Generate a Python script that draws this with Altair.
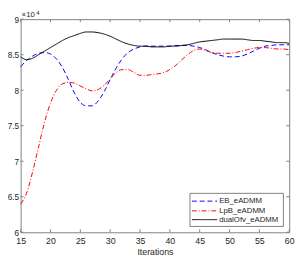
import altair as alt
import pandas as pd

iterations = list(range(15, 61))

eb_eadmm = [8.33, 8.42, 8.48, 8.52, 8.53, 8.51, 8.44, 8.32, 8.15, 7.96,
            7.83, 7.78, 7.78, 7.85, 7.98, 8.15, 8.31, 8.44, 8.53, 8.58,
            8.61, 8.62, 8.62, 8.62, 8.62, 8.62, 8.63, 8.63, 8.63, 8.62,
            8.60, 8.57, 8.53, 8.50, 8.48, 8.47, 8.47, 8.48, 8.51, 8.55,
            8.59, 8.62, 8.63, 8.64, 8.64, 8.64]

lpb_eadmm = [6.40, 6.55, 6.85, 7.20, 7.55, 7.82, 8.00, 8.09, 8.11, 8.10,
             8.06, 8.02, 7.99, 8.01, 8.07, 8.16, 8.25, 8.29, 8.29, 8.25,
             8.21, 8.21, 8.22, 8.23, 8.25, 8.29, 8.35, 8.43, 8.50, 8.56,
             8.58, 8.56, 8.53, 8.52, 8.52, 8.52, 8.53, 8.55, 8.57, 8.59,
             8.60, 8.60, 8.59, 8.58, 8.58, 8.57]

dualofv_eadmm = [8.47, 8.43, 8.45, 8.50, 8.55, 8.60, 8.65, 8.70, 8.74, 8.77,
                 8.80, 8.82, 8.82, 8.81, 8.79, 8.76, 8.72, 8.68, 8.65, 8.63,
                 8.62, 8.62, 8.61, 8.61, 8.61, 8.62, 8.62, 8.63, 8.64, 8.66,
                 8.68, 8.69, 8.70, 8.71, 8.72, 8.72, 8.72, 8.72, 8.71, 8.70,
                 8.70, 8.69, 8.68, 8.67, 8.67, 8.66]

series_names = ["EB_eADMM", "LpB_eADMM", "dualOfv_eADMM"]
series_colors = ["#0000ff", "#ff0000", "#000000"]
series_dashes = [[5, 3], [5, 2, 1, 2], [1, 0]]

x_ticks = [15, 20, 25, 30, 35, 40, 45, 50, 55, 60]
y_ticks = [60000, 65000, 70000, 75000, 80000, 85000, 90000]

W, H = 276, 219
FONT = "Liberation Sans"
TXT = "#262626"
AX = "#808080"

rows = []
for name, vals in zip(series_names, [eb_eadmm, lpb_eadmm, dualofv_eadmm]):
    for it, v in zip(iterations, vals):
        rows.append({"Iterations": it, "value": v * 10000, "series": name})
df = pd.DataFrame(rows)

xscale = alt.Scale(domain=[15, 60], nice=False, zero=False)
yscale = alt.Scale(domain=[60000, 90000], nice=False, zero=False)

x_axis = alt.Axis(values=x_ticks, title="Iterations", grid=False, ticks=False,
                  domain=False, labelPadding=5, titlePadding=2,
                  labelFlush=False, labelOverlap=False)
y_axis = alt.Axis(values=y_ticks, title=None, grid=False, ticks=False,
                  domain=False, labelPadding=2, labelFlush=False,
                  labelOverlap=False, labelFontSize=8.5,
                  labelExpr="format(datum.value / 10000, '~g')")

lines = alt.Chart(df).mark_line(strokeWidth=1, interpolate="monotone").encode(
    x=alt.X("Iterations:Q", scale=xscale, axis=x_axis),
    y=alt.Y("value:Q", scale=yscale, axis=y_axis),
    color=alt.Color("series:N", sort=series_names,
                    scale=alt.Scale(domain=series_names, range=series_colors),
                    legend=None),
    strokeDash=alt.StrokeDash("series:N", sort=series_names,
                              scale=alt.Scale(domain=series_names, range=series_dashes),
                              legend=None),
)

xt = pd.DataFrame({"t": x_ticks})
yt = pd.DataFrame({"t": y_ticks})

xb = alt.Chart(xt).mark_rule(color=AX, strokeWidth=1).encode(
    x=alt.X("t:Q", scale=xscale, axis=x_axis), y=alt.value(H), y2=alt.value(H - 3))
xtop = alt.Chart(xt).mark_rule(color=AX, strokeWidth=1).encode(
    x=alt.X("t:Q", scale=xscale, axis=x_axis), y=alt.value(0), y2=alt.value(3))
yl = alt.Chart(yt).mark_rule(color=AX, strokeWidth=1).encode(
    y=alt.Y("t:Q", scale=yscale, axis=y_axis), x=alt.value(0), x2=alt.value(3))
yr = alt.Chart(yt).mark_rule(color=AX, strokeWidth=1).encode(
    y=alt.Y("t:Q", scale=yscale, axis=y_axis), x=alt.value(W - 3), x2=alt.value(W))

one = pd.DataFrame({"a": [0]})
exp_base = alt.Chart(one).mark_text(
    align="left", baseline="alphabetic", fontSize=8, color=TXT, font=FONT
).encode(x=alt.value(1), y=alt.value(-2), text=alt.value("×10"))
exp_sup = alt.Chart(one).mark_text(
    align="left", baseline="alphabetic", fontSize=6, color=TXT, font=FONT
).encode(x=alt.value(16), y=alt.value(-4), text=alt.value("4"))

# manual legend (inside plot, bottom-right)
LX0, LX1, LY0, LY1 = 174, 270, 179, 213
row_y = [187, 197, 206]
legend_box = alt.Chart(one).mark_rect(fill="white", stroke=AX, strokeWidth=1).encode(
    x=alt.value(LX0), x2=alt.value(LX1), y=alt.value(LY0), y2=alt.value(LY1))
legend_layers = [legend_box]
for name, col, dash, ry in zip(series_names, series_colors, series_dashes, row_y):
    legend_layers.append(
        alt.Chart(one).mark_rule(color=col, strokeDash=dash, strokeWidth=1).encode(
            x=alt.value(LX0 + 2), x2=alt.value(LX0 + 28), y=alt.value(ry))
    )
    legend_layers.append(
        alt.Chart(one).mark_text(align="left", baseline="middle", fontSize=8,
                                 color=TXT, font=FONT).encode(
            x=alt.value(LX0 + 30), y=alt.value(ry), text=alt.value(name))
    )

chart = alt.layer(lines, xb, xtop, yl, yr, exp_base, exp_sup, *legend_layers).properties(
    width=W, height=H, autosize="none",
    padding={"left": 13, "top": 8, "right": 8, "bottom": 25},
).configure_view(
    stroke=AX, strokeWidth=1
).configure_axis(
    labelFont=FONT, labelFontSize=9, labelColor=TXT,
    titleFont=FONT, titleFontSize=9, titleColor=TXT, titleFontWeight="normal",
)

chart.save("out.html", embed_options={"renderer": "svg", "actions": False})
